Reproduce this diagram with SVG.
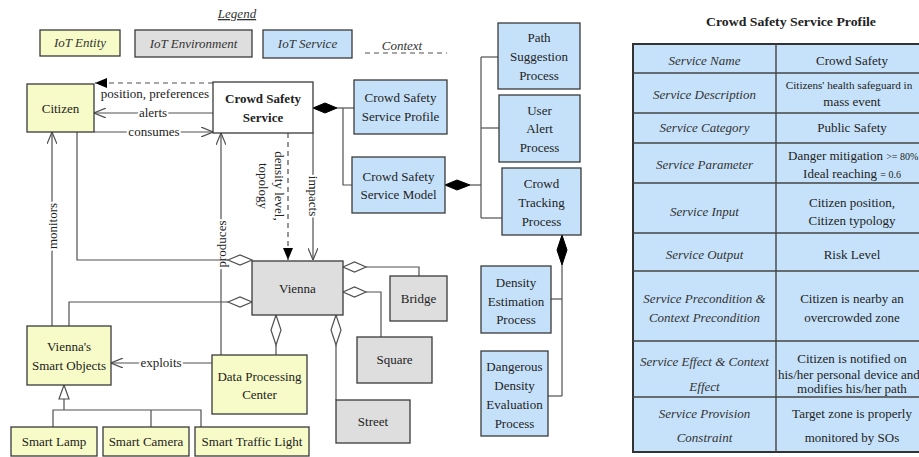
<svg xmlns="http://www.w3.org/2000/svg" width="919" height="457" viewBox="0 0 919 457">
<style>
text{font-family:"Liberation Serif","Times New Roman",serif;font-size:13px;fill:#222;text-anchor:middle}
.it{font-style:italic;fill:#333}
.b{font-weight:bold}
.ent{fill:#F7FBC7;stroke:#3a3a3a;stroke-width:1.3}
.env{fill:#DEDEDE;stroke:#3a3a3a;stroke-width:1.3}
.svc{fill:#C5E1FA;stroke:#3a3a3a;stroke-width:1.3}
.wht{fill:#fff;stroke:#3a3a3a;stroke-width:1.3}
.ln{fill:none;stroke:#505050;stroke-width:1.2}
.dash{stroke-dasharray:5,4}
.hd{fill:#fff;stroke:#505050;stroke-width:1.2}
.fd{fill:#000;stroke:#000;stroke-width:1}
.lbl{paint-order:stroke;stroke:#fff;stroke-width:4px;stroke-linejoin:round}
.tb{fill:#C6E2FB;stroke:#333;stroke-width:2}
.tl{stroke:#444;stroke-width:1.4}
.sm{font-size:10px}
</style>
<defs>
<marker id="open" viewBox="0 0 12 10" refX="12" refY="5" markerWidth="12" markerHeight="10" markerUnits="userSpaceOnUse" orient="auto">
<path d="M0,0 L12,5 L0,10" fill="none" stroke="#505050" stroke-width="1.2"/>
</marker>
<marker id="fill" viewBox="0 0 12 10" refX="12" refY="5" markerWidth="12" markerHeight="10" markerUnits="userSpaceOnUse" orient="auto">
<path d="M0,0 L12,5 L0,10 Z" fill="#000"/>
</marker>
</defs>

<g id="legend">
<text x="237" y="18" class="it" text-decoration="underline">Legend</text>
<rect x="40" y="30" width="80" height="26" class="ent"/>
<text x="80" y="47" class="it">IoT Entity</text>
<rect x="135" y="30" width="117" height="27" class="env"/>
<text x="193.5" y="48" class="it">IoT Environment</text>
<rect x="263" y="30" width="89" height="28" class="svc"/>
<text x="307.5" y="48" class="it">IoT Service</text>
<text x="402" y="50" class="it">Context</text>
<line x1="365" y1="53" x2="447" y2="53" class="ln dash"/>
</g>

<g id="connectors">
<line x1="213" y1="83" x2="95" y2="83" class="ln dash" marker-end="url(#fill)"/>
<text x="155" y="98">position, preferences</text>
<line x1="213" y1="113" x2="94" y2="113" class="ln" marker-end="url(#open)"/>
<text x="153" y="117" class="lbl">alerts</text>
<line x1="94" y1="132" x2="213" y2="132" class="ln" marker-end="url(#open)"/>
<text x="154" y="136" class="lbl">consumes</text>

<polyline points="337,108 354,108" class="ln"/>
<polyline points="343,108 343,185 352,185" class="ln"/>
<polygon points="313,108 325,103 337,108 325,113" class="fd"/>

<polyline points="470,185 481,185" class="ln"/>
<polyline points="481,57 481,218" class="ln"/>
<polyline points="481,57 498,57" class="ln"/>
<polyline points="481,128 499,128" class="ln"/>
<polyline points="481,218 502,218" class="ln"/>
<polygon points="445,185 457,180 470,185 457,190" class="fd"/>

<polyline points="562,265 562,396" class="ln"/>
<polyline points="551,299 562,299" class="ln"/>
<polyline points="548,396 562,396" class="ln"/>
<polygon points="562,235 567,250 562,265 557,250" class="fd"/>

<line x1="288" y1="133" x2="288" y2="260" class="ln dash" marker-end="url(#fill)"/>
<text transform="translate(274.5,186) rotate(90)">density level,</text>
<text transform="translate(258.5,186) rotate(90)">topology</text>

<line x1="313" y1="133" x2="313" y2="260" class="ln" marker-end="url(#open)"/>
<text transform="translate(308.5,196) rotate(90)" class="lbl">impacts</text>

<line x1="221" y1="355" x2="221" y2="133" class="ln" marker-end="url(#open)"/>
<text transform="translate(225.5,244) rotate(-90)" class="lbl">produces</text>

<line x1="52" y1="326" x2="52" y2="132" class="ln" marker-end="url(#open)"/>
<text transform="translate(56.5,226) rotate(-90)" class="lbl">monitors</text>

<polyline points="77,132 77,260 228,260" class="ln"/>
<polygon points="228,260 240,255 252,260 240,265" class="hd"/>
<polyline points="69,326 69,302 228,302" class="ln"/>
<polygon points="228,302 240,297 252,302 240,307" class="hd"/>

<polyline points="366,267 419,267 419,276" class="ln"/>
<polygon points="343,267 354.5,262 366,267 354.5,272" class="hd"/>
<polyline points="366,292 381,292 381,337" class="ln"/>
<polygon points="343,292 354.5,287 366,292 354.5,297" class="hd"/>

<line x1="276" y1="345" x2="276" y2="355" class="ln"/>
<polygon points="276,315 281,330 276,345 271,330" class="hd"/>
<line x1="336" y1="345" x2="336" y2="400" class="ln"/>
<polygon points="336,315 341,330 336,345 331,330" class="hd"/>

<line x1="212" y1="363" x2="111" y2="363" class="ln" marker-end="url(#open)"/>
<text x="161" y="367" class="lbl">exploits</text>

<polyline points="64,399 64,410" class="ln"/>
<polyline points="53,427 53,410 201,410 201,427" class="ln"/>
<polyline points="151,410 151,427" class="ln"/>
<polygon points="64,385 69,399 59,399" class="hd"/>
</g>

<g id="citizen"><rect x="27" y="84" width="67" height="48" class="ent"/><text x="60.5" y="113">Citizen</text></g>
<g id="crowd-safety-service"><rect x="213" y="82" width="100" height="51" class="wht"/><text x="263" y="103" class="b">Crowd Safety</text><text x="263" y="122" class="b">Service</text></g>
<g id="cs-profile"><rect x="354" y="80" width="93" height="54" class="svc"/><text x="400.5" y="102">Crowd Safety</text><text x="400.5" y="121">Service Profile</text></g>
<g id="cs-model"><rect x="352" y="157" width="93" height="56" class="svc"/><text x="398.5" y="181">Crowd Safety</text><text x="398.5" y="199">Service Model</text></g>
<g id="path-suggestion"><rect x="498" y="23" width="82" height="66" class="svc"/><text x="539" y="42">Path</text><text x="539" y="61">Suggestion</text><text x="539" y="80">Process</text></g>
<g id="user-alert"><rect x="499" y="95" width="81" height="67" class="svc"/><text x="539.5" y="114.5">User</text><text x="539.5" y="132.5">Alert</text><text x="539.5" y="151.5">Process</text></g>
<g id="crowd-tracking"><rect x="502" y="168" width="79" height="67" class="svc"/><text x="541.5" y="187.5">Crowd</text><text x="541.5" y="206.5">Tracking</text><text x="541.5" y="225.5">Process</text></g>
<g id="density-estimation"><rect x="481" y="266" width="70" height="67" class="svc"/><text x="516" y="286.5">Density</text><text x="516" y="305.5">Estimation</text><text x="516" y="323.5">Process</text></g>
<g id="dangerous-density"><rect x="481" y="351" width="67" height="85" class="svc"/><text x="514.5" y="370.5">Dangerous</text><text x="514.5" y="389.5">Density</text><text x="514.5" y="408.5">Evaluation</text><text x="514.5" y="427.5">Process</text></g>
<g id="vienna"><rect x="252" y="261" width="91" height="54" class="env"/><text x="297.5" y="293">Vienna</text></g>
<g id="bridge"><rect x="390" y="276" width="57" height="45" class="env"/><text x="418.5" y="303">Bridge</text></g>
<g id="square"><rect x="357" y="337" width="75" height="46" class="env"/><text x="394.5" y="364">Square</text></g>
<g id="street"><rect x="336" y="400" width="74" height="43" class="env"/><text x="373" y="426">Street</text></g>
<g id="smart-objects"><rect x="27" y="326" width="84" height="59" class="ent"/><text x="69" y="351">Vienna's</text><text x="69" y="370">Smart Objects</text></g>
<g id="data-processing"><rect x="212" y="355" width="95" height="59" class="ent"/><text x="259.5" y="381">Data Processing</text><text x="259.5" y="399">Center</text></g>
<g id="smart-lamp"><rect x="11" y="427" width="86" height="29" class="ent"/><text x="54" y="446">Smart Lamp</text></g>
<g id="smart-camera"><rect x="103" y="427" width="86" height="29" class="ent"/><text x="146" y="446">Smart Camera</text></g>
<g id="smart-traffic-light"><rect x="195" y="427" width="114" height="29" class="ent"/><text x="252" y="446">Smart Traffic Light</text></g>

<g id="profile-table">
<text x="791" y="26" class="b" textLength="170" lengthAdjust="spacingAndGlyphs">Crowd Safety Service Profile</text>
<rect x="633" y="44" width="310" height="408" class="tb"/>
<line x1="776" y1="44" x2="776" y2="452" class="tl"/>
<line x1="633" y1="73" x2="919" y2="73" class="tl"/>
<line x1="633" y1="113" x2="919" y2="113" class="tl"/>
<line x1="633" y1="143" x2="919" y2="143" class="tl"/>
<line x1="633" y1="183" x2="919" y2="183" class="tl"/>
<line x1="633" y1="233" x2="919" y2="233" class="tl"/>
<line x1="633" y1="271" x2="919" y2="271" class="tl"/>
<line x1="633" y1="341" x2="919" y2="341" class="tl"/>
<line x1="633" y1="397" x2="919" y2="397" class="tl"/>
<g style="font-size:13.5px">
<text x="704.5" y="64.5" class="it">Service Name</text>
<text x="704.5" y="98.5" class="it">Service Description</text>
<text x="704.5" y="131.5" class="it">Service Category</text>
<text x="704.5" y="168.5" class="it">Service Parameter</text>
<text x="704.5" y="215.5" class="it">Service Input</text>
<text x="704.5" y="258.5" class="it">Service Output</text>
<text x="704.5" y="302.5" class="it">Service Precondition &amp;</text>
<text x="704.5" y="321.5" class="it">Context Precondition</text>
<text x="704.5" y="365.5" class="it">Service Effect &amp;  Context</text>
<text x="704.5" y="390.5" class="it">Effect</text>
<text x="704.5" y="417.5" class="it">Service Provision</text>
<text x="704.5" y="441.5" class="it">Constraint</text>
</g>
<text x="849" y="88.5" style="font-size:11.2px">Citizens' health safeguard in</text>
<text x="852" y="64.5">Crowd Safety</text>
<text x="852" y="105.5">mass event</text>
<text x="852" y="131.5">Public Safety</text>
<text x="788" y="159.5" style="text-anchor:start">Danger mitigation <tspan class="sm">&gt;= 80%</tspan></text>
<text x="852" y="177.5">Ideal reaching <tspan class="sm">= 0.6</tspan></text>
<text x="852" y="206.5">Citizen position,</text>
<text x="852" y="224.5">Citizen typology</text>
<text x="852" y="258.5">Risk Level</text>
<text x="852" y="302.5">Citizen is nearby an</text>
<text x="852" y="321.5">overcrowded zone</text>
<text x="852" y="362.5">Citizen is notified on</text>
<text x="778" y="378.5" style="text-anchor:start">his/her personal device and</text>
<text x="852" y="392.5">modifies his/her path</text>
<text x="852" y="417.5">Target zone is properly</text>
<text x="852" y="441.5">monitored by SOs</text>
</g>
</svg>
